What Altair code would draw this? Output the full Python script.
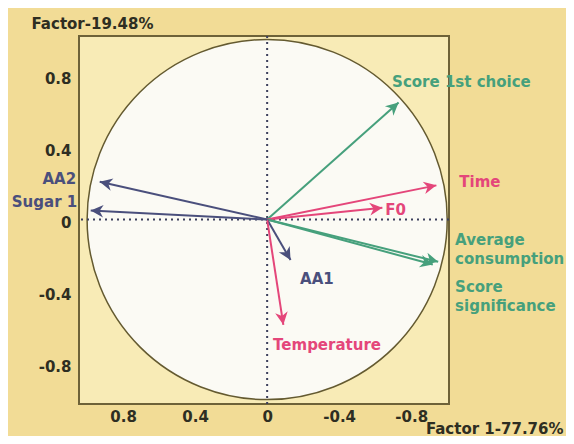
import altair as alt
import pandas as pd

# variables of the correlation circle (Factor 1 = x, Factor 2 = y)
names = ["Score 1st choice", "Time", "F0", "Average consumption",
         "Score significance", "AA1", "Temperature", "AA2", "Sugar 1"]
fx = [-0.73, -0.94, -0.64, -0.95, -0.92, -0.13, -0.09, 0.93, 0.98]
fy = [0.65, 0.19, 0.065, -0.235, -0.25, -0.225, -0.585, 0.21, 0.05]
groups = ["score", "process", "process", "score", "score",
          "chem", "process", "chem", "chem"]

# label texts and anchors (data units, first line)
label_text = [["Score 1st choice"], ["Time"], ["F0"], ["Average", "consumption"],
              ["Score", "significance"], ["AA1"], ["Temperature"], ["AA2"], ["Sugar 1"]]
label_x = [-0.694, -1.067, -0.656, -1.044, -1.044, -0.183, -0.033, 1.061, 1.055]
label_y = [0.765, 0.209, 0.053, -0.113, -0.374, -0.331, -0.697, 0.225, 0.097]
label_align = ["left", "left", "left", "left", "left", "left", "left", "right", "right"]

ticks = [0.8, 0.4, 0, -0.4, -0.8]
x_dom = [1.045, -1.01]
y_dom = [-1.025, 1.02]

W, H = 370, 368
FONT = "DejaVu Sans"
arrow_col = {"score": "#46a07c", "process": "#e4467a", "chem": "#4a4f7c"}
text_col = {"score": "#7db98c", "process": "#e84f7f", "chem": "#4a4f7c"}

df = pd.DataFrame({"name": names, "x": fx, "y": fy, "g": groups, "x0": 0.0, "y0": 0.0})
lab = pd.DataFrame({"name": names, "t": label_text, "lx": label_x, "ly": label_y,
                    "al": label_align, "g": groups})

xs = alt.Scale(domain=x_dom, nice=False, zero=False)
ys = alt.Scale(domain=y_dom, nice=False, zero=False)

minus_fix = "replace(datum.label, '\u2212', '-')"

X = alt.X("x:Q", scale=xs,
          axis=alt.Axis(values=ticks, grid=False, domain=False, ticks=False,
                        labelPadding=5, labelFontSize=15, labelFontWeight="bold",
                        labelColor="#2e2e22", labelFont=FONT, labelExpr=minus_fix,
                        format="~g", title="Factor 1-77.76%", titleAngle=0,
                        titleX=484, titleY=24, titleAlign="right", titleBaseline="middle",
                        titleFontSize=15, titleFont=FONT, titleColor="#2e2e22"))
Y = alt.Y("y:Q", scale=ys,
          axis=alt.Axis(values=ticks, grid=False, domain=False, ticks=False,
                        labelPadding=8, labelOffset=3, labelFontSize=15, labelFontWeight="bold",
                        labelColor="#2e2e22", labelFont=FONT, labelExpr=minus_fix,
                        format="~g", title="Factor-19.48%", titleAngle=0,
                        titleX=-48, titleY=-13, titleAlign="left", titleBaseline="middle",
                        titleFontSize=15, titleFont=FONT, titleColor="#2e2e22"))

px_per_unit = W / (x_dom[0] - x_dom[1])

center = pd.DataFrame({"x": [0.0], "y": [0.0]})
circle = alt.Chart(center).mark_arc(
    theta=0, theta2=6.2832, radius=px_per_unit, fill="#fbfaf4",
    stroke="#645a30", strokeWidth=1.5
).encode(x=X, y=Y)

vline = alt.Chart(center).mark_rule(color="#3c3f5c", strokeDash=[2, 4], strokeWidth=2).encode(
    x=alt.X("x:Q", scale=xs))
hline = alt.Chart(center).mark_rule(color="#3c3f5c", strokeDash=[2, 4], strokeWidth=2).encode(
    y=alt.Y("y:Q", scale=ys))

cscale = alt.Scale(domain=list(arrow_col.keys()), range=list(arrow_col.values()))
tscale = alt.Scale(domain=list(text_col.keys()), range=list(text_col.values()))

shafts = alt.Chart(df).mark_rule(strokeWidth=2).encode(
    x=alt.X("x0:Q", scale=xs), y=alt.Y("y0:Q", scale=ys),
    x2="x:Q", y2="y:Q",
    color=alt.Color("g:N", scale=cscale, legend=None))

heads = alt.Chart(df).transform_calculate(
    ang="(atan2(-datum.x, datum.y) * 180 / PI + 360) % 360"
).mark_point(
    shape="M0,0L0.5,1L0,0.7L-0.5,1Z", size=640, filled=True, opacity=1
).encode(
    x=alt.X("x:Q", scale=xs), y=alt.Y("y:Q", scale=ys),
    angle=alt.Angle("ang:Q", scale=None),
    color=alt.Color("g:N", scale=cscale, legend=None))

def labels(align):
    return alt.Chart(lab).transform_filter(alt.datum.al == align).mark_text(
        align=align, baseline="middle", fontSize=15, fontWeight="bold",
        font=FONT, lineHeight=19
    ).encode(
        x=alt.X("lx:Q", scale=xs), y=alt.Y("ly:Q", scale=ys), text="t",
        color=alt.Color("g:N", scale=tscale, legend=None))

base = alt.Chart(center).mark_point(opacity=0).encode(x=X, y=Y)

chart = alt.layer(base, circle, vline, hline, shafts, heads, labels("left"), labels("right")).properties(
    width=W, height=H,
    autosize=alt.AutoSizeParams(type="none"),
    padding={"left": 71, "top": 28, "right": 117, "bottom": 32},
    background="#f2dc96",
).configure_view(fill="#f8ebb6", stroke="#6e6238", strokeWidth=2)

chart.save("out.html", embed_options={"renderer": "svg", "actions": False})
